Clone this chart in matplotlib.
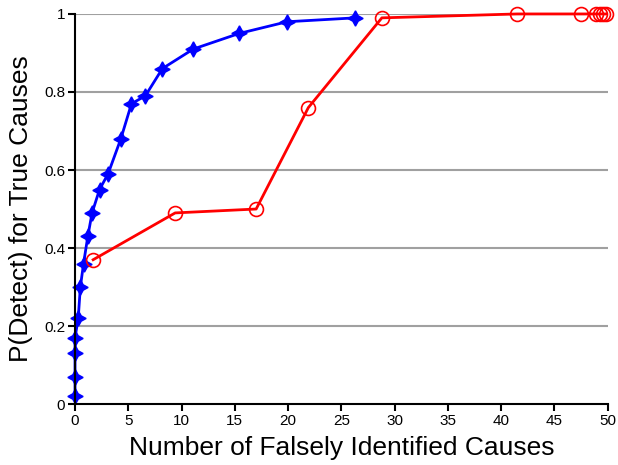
import numpy as np
import matplotlib.pyplot as plt

plt.rcParams['font.family'] = ['Liberation Sans', 'DejaVu Sans']

# blue curve (star markers)
blue_x = [0, 0, 0, 0, 0.3, 0.5, 0.8, 1.2, 1.6, 2.3, 3.1, 4.3, 5.3, 6.6, 8.2, 11.1, 15.4, 19.9, 26.3]
blue_y = [0.02, 0.07, 0.13, 0.17, 0.22, 0.30, 0.36, 0.43, 0.49, 0.55, 0.59, 0.68, 0.77, 0.79, 0.86, 0.91, 0.95, 0.98, 0.99]

# red curve (open circles)
red_x = [1.7, 9.4, 17.0, 21.9, 28.8, 41.5, 47.5, 48.9, 49.3, 49.6, 49.8]
red_y = [0.37, 0.49, 0.50, 0.76, 0.99, 1.0, 1.0, 1.0, 1.0, 1.0, 1.0]

xticks = [0, 5, 10, 15, 20, 25, 30, 35, 40, 45, 50]
yticks = [0, 0.2, 0.4, 0.6, 0.8, 1]
ytick_labels = ['0', '0.2', '0.4', '0.6', '0.8', '1']

fig = plt.figure(figsize=(6.18, 4.65), dpi=100)
ax = fig.add_axes([0.1214, 0.131, 0.862, 0.839])

for yv in yticks[1:]:
    ax.axhline(yv, color='#a0a0a0', lw=1.5, zorder=0)

ax.plot(blue_x, blue_y, color='#0000ff', lw=2, marker=(4, 1, 0), ms=11,
        mec='#0000ff', mfc='#0000ff', clip_on=False)
ax.plot(red_x, red_y, color='#ff0000', lw=2, marker='o', ms=10,
        mfc='none', mec='#ff0000', mew=1.2, clip_on=False)

ax.set_xlim(0, 50)
ax.set_ylim(0, 1)
ax.set_xticks(xticks)
ax.set_yticks(yticks)
ax.set_yticklabels(ytick_labels)
ax.spines['top'].set_visible(False)
ax.spines['right'].set_visible(False)
ax.spines['left'].set_linewidth(1.5)
ax.spines['bottom'].set_linewidth(1.5)
ax.tick_params(direction='out', length=5, width=1.5, labelsize=11, pad=2)

ax.set_xlabel('Number of Falsely Identified Causes', fontsize=19, labelpad=6)
ax.set_ylabel('P(Detect) for True Causes', fontsize=19, labelpad=8)

fig.savefig('out.png', dpi=100)
